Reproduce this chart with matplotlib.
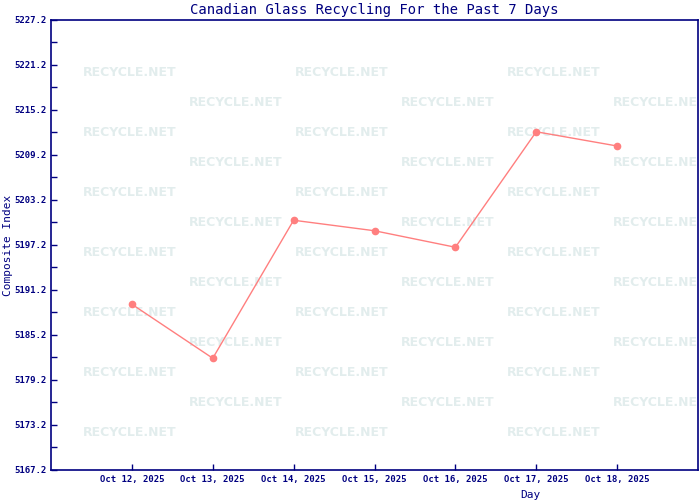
import numpy as np
import matplotlib.pyplot as plt

# Data
days = ["Oct 12, 2025", "Oct 13, 2025", "Oct 14, 2025", "Oct 15, 2025",
        "Oct 16, 2025", "Oct 17, 2025", "Oct 18, 2025"]
values = [5189.3, 5182.1, 5200.5, 5199.1, 5196.9, 5212.3, 5210.4]
y_ticks = [5167.2, 5173.2, 5179.2, 5185.2, 5191.2, 5197.2, 5203.2,
           5209.2, 5215.2, 5221.2, 5227.2]

navy = "#000080"
mono = "DejaVu Sans Mono"

fig = plt.figure(figsize=(7, 5), dpi=100)
ax = fig.add_axes([51 / 700, 30 / 500, 647 / 700, 450 / 500])

# Watermark grid
for r in range(13):
    y = 1 - (53 + r * 30) / 450
    xs = [130, 342, 554] if r % 2 == 0 else [236, 448, 660]
    for x in xs:
        ax.text((x - 51) / 647, y, "RECYCLE.NET", transform=ax.transAxes,
                ha="center", va="center", fontsize=9, fontweight="bold",
                color="#e2eded", family="DejaVu Sans", zorder=0,
                clip_on=True)

x = np.arange(1, len(days) + 1)
ax.plot(x, values, color="#ff7f7f", linewidth=1, marker="o",
        markersize=4.5, zorder=3)

ax.set_xlim(0, 8)
ax.set_ylim(5167.2, 5227.2)
ax.set_xticks(x)
ax.set_xticklabels(days)
ax.set_yticks(y_ticks)
ax.set_yticklabels([f"{v:.1f}" for v in y_ticks])
ax.set_yticks([v + 3 for v in y_ticks[:-1]], minor=True)

for s in ax.spines.values():
    s.set_color(navy)
    s.set_linewidth(1.2)
ax.tick_params(axis="both", which="both", direction="in", colors=navy,
               length=4, width=1)
ax.tick_params(axis="y", which="minor", labelleft=False)
for lab in ax.get_xticklabels() + ax.get_yticklabels():
    lab.set_fontsize(6.5)
    lab.set_fontweight("bold")
    lab.set_family(mono)
    lab.set_color(navy)

ax.set_title("Canadian Glass Recycling For the Past 7 Days", fontsize=10,
             family=mono, color=navy, pad=4)
ax.set_ylabel("Composite Index", fontsize=8, family=mono, color=navy)
ax.yaxis.set_label_coords(-0.058, 0.5)
ax.set_xlabel("Day", fontsize=8, family=mono, color=navy)
ax.xaxis.set_label_coords((530 - 51) / 647, -0.045)

fig.savefig("out.png", dpi=100)
